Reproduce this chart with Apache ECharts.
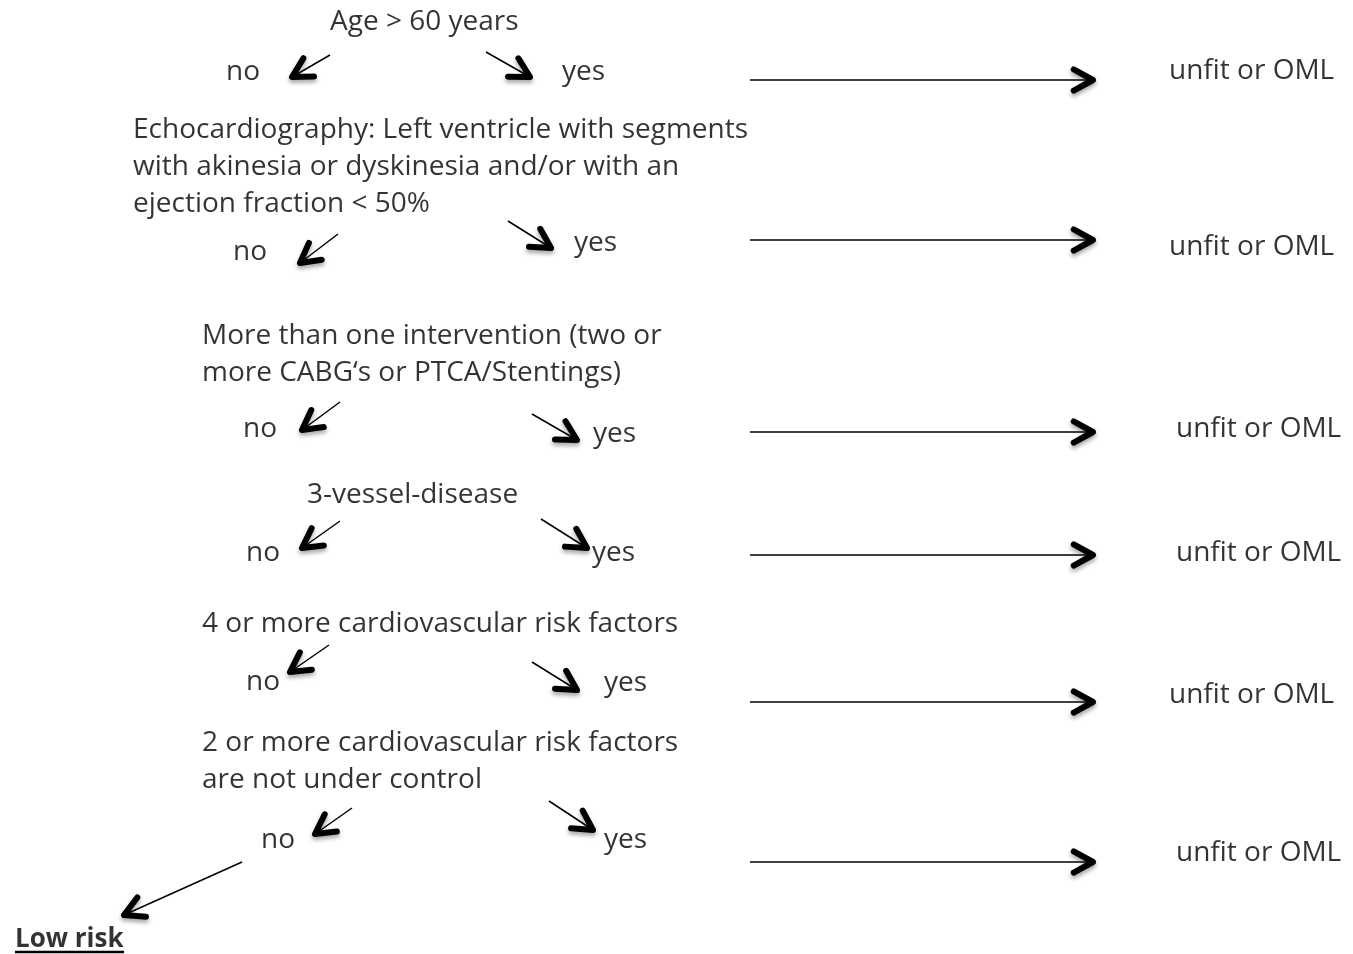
<!DOCTYPE html>
<html><head><meta charset="utf-8">
<script src="https://cdn.jsdelivr.net/npm/echarts@6/dist/echarts.min.js"></script>
<style>html,body{margin:0;padding:0;background:#fff}#c{width:1353px;height:954px}</style>
</head><body><div id="c"></div>
<script>
// Diagram text lines: [x, y(centre), text]
const questionLines = [
  [330, 22, 'Age > 60 years'],
  [133, 130, 'Echocardiography: Left ventricle with segments'],
  [133, 167, 'with akinesia or dyskinesia and/or with an'],
  [133, 204, 'ejection fraction < 50%'],
  [202, 336, 'More than one intervention (two or'],
  [202, 373, 'more CABG\u2018s or PTCA/Stentings)'],
  [307, 495, '3-vessel-disease'],
  [202, 624, '4 or more cardiovascular risk factors'],
  [202, 743, '2 or more cardiovascular risk factors'],
  [202, 780, 'are not under control']
];
const noLabels = [[226, 72, 'no'], [233, 252, 'no'], [243, 429, 'no'], [246, 553, 'no'], [246, 682, 'no'], [261, 840, 'no']];
const yesLabels = [[562, 72, 'yes'], [574, 243, 'yes'], [593, 434, 'yes'], [592, 553, 'yes'], [604, 683, 'yes'], [604, 840, 'yes']];
const outcomeLabels = [[1169, 71, 'unfit or OML'], [1169, 247, 'unfit or OML'], [1176, 429, 'unfit or OML'], [1176, 553, 'unfit or OML'], [1169, 695, 'unfit or OML'], [1176, 853, 'unfit or OML']];
const finalLabel = [[15, 940, 'Low risk']];
// Arrows: [x1, y1, x2, y2, hasHead]
const noArrows = [[330, 55, 292, 77, 1], [338, 234, 300, 263, 1], [340, 402, 302, 430, 1], [340, 521, 302, 548, 1], [329, 645, 290, 672, 1], [352, 808, 315, 834, 1], [242, 862, 124, 915, 1]];
const yesArrows = [[486, 52, 530, 77, 1], [508, 221, 551, 248, 1], [532, 414, 577, 440, 1], [541, 519, 587, 548, 1], [532, 662, 577, 690, 1], [549, 801, 593, 830, 1]];
const outcomeArrows = [[750, 80, 1093, 80, 1], [750, 240, 1093, 240, 1], [750, 432, 1093, 432, 1], [750, 555, 1093, 555, 1], [750, 702, 1093, 702, 1], [750, 862, 1093, 862, 1]];
const underlines = [[15, 952, 124, 952, 0]];

const FONT = 'Open Sans';
const chart = echarts.init(document.getElementById('c'), null, {renderer: 'canvas'});

function textSeries(data, bold) {
  return {
    type: 'scatter', data: data, symbolSize: 0, silent: true,
    label: {
      show: true, position: 'inside', align: 'left', verticalAlign: 'middle',
      formatter: p => p.data[2], color: '#000', fontFamily: FONT, fontSize: bold ? 26 : 28,
      fontWeight: bold ? 'bold' : 'normal'
    }
  };
}

function arrowSeries(data) {
  return {
    type: 'custom', data: data, silent: true,
    renderItem: function (params, api) {
      const p1 = api.coord([api.value(0), api.value(1)]);
      const p2 = api.coord([api.value(2), api.value(3)]);
      const children = [{
        type: 'line',
        shape: {x1: p1[0], y1: p1[1], x2: p2[0], y2: p2[1]},
        style: {stroke: '#000', lineWidth: api.value(4) ? 1.5 : 2.5}
      }];
      if (api.value(4)) {
        const ang = Math.atan2(p2[1] - p1[1], p2[0] - p1[0]);
        const L = 22, a = 0.5;
        const h1 = [p2[0] - L * Math.cos(ang - a), p2[1] - L * Math.sin(ang - a)];
        const h2 = [p2[0] - L * Math.cos(ang + a), p2[1] - L * Math.sin(ang + a)];
        children.push({
          type: 'polyline',
          shape: {points: [h1, p2, h2]},
          style: {stroke: '#000', lineWidth: 6, fill: null, lineJoin: 'round', lineCap: 'round',
            shadowBlur: 4, shadowColor: 'rgba(0,0,0,0.35)', shadowOffsetY: 3}
        });
      }
      return {type: 'group', children: children};
    }
  };
}

chart.setOption({
  animation: false,
  backgroundColor: '#fff',
  grid: {left: 0, right: 0, top: 0, bottom: 0},
  xAxis: {type: 'value', min: 0, max: 1353, show: false},
  yAxis: {type: 'value', min: 0, max: 954, inverse: true, show: false},
  series: [
    arrowSeries(noArrows), arrowSeries(yesArrows), arrowSeries(outcomeArrows), arrowSeries(underlines),
    textSeries(questionLines), textSeries(noLabels), textSeries(yesLabels), textSeries(outcomeLabels),
    textSeries(finalLabel, true)
  ]
});
</script></body></html>
